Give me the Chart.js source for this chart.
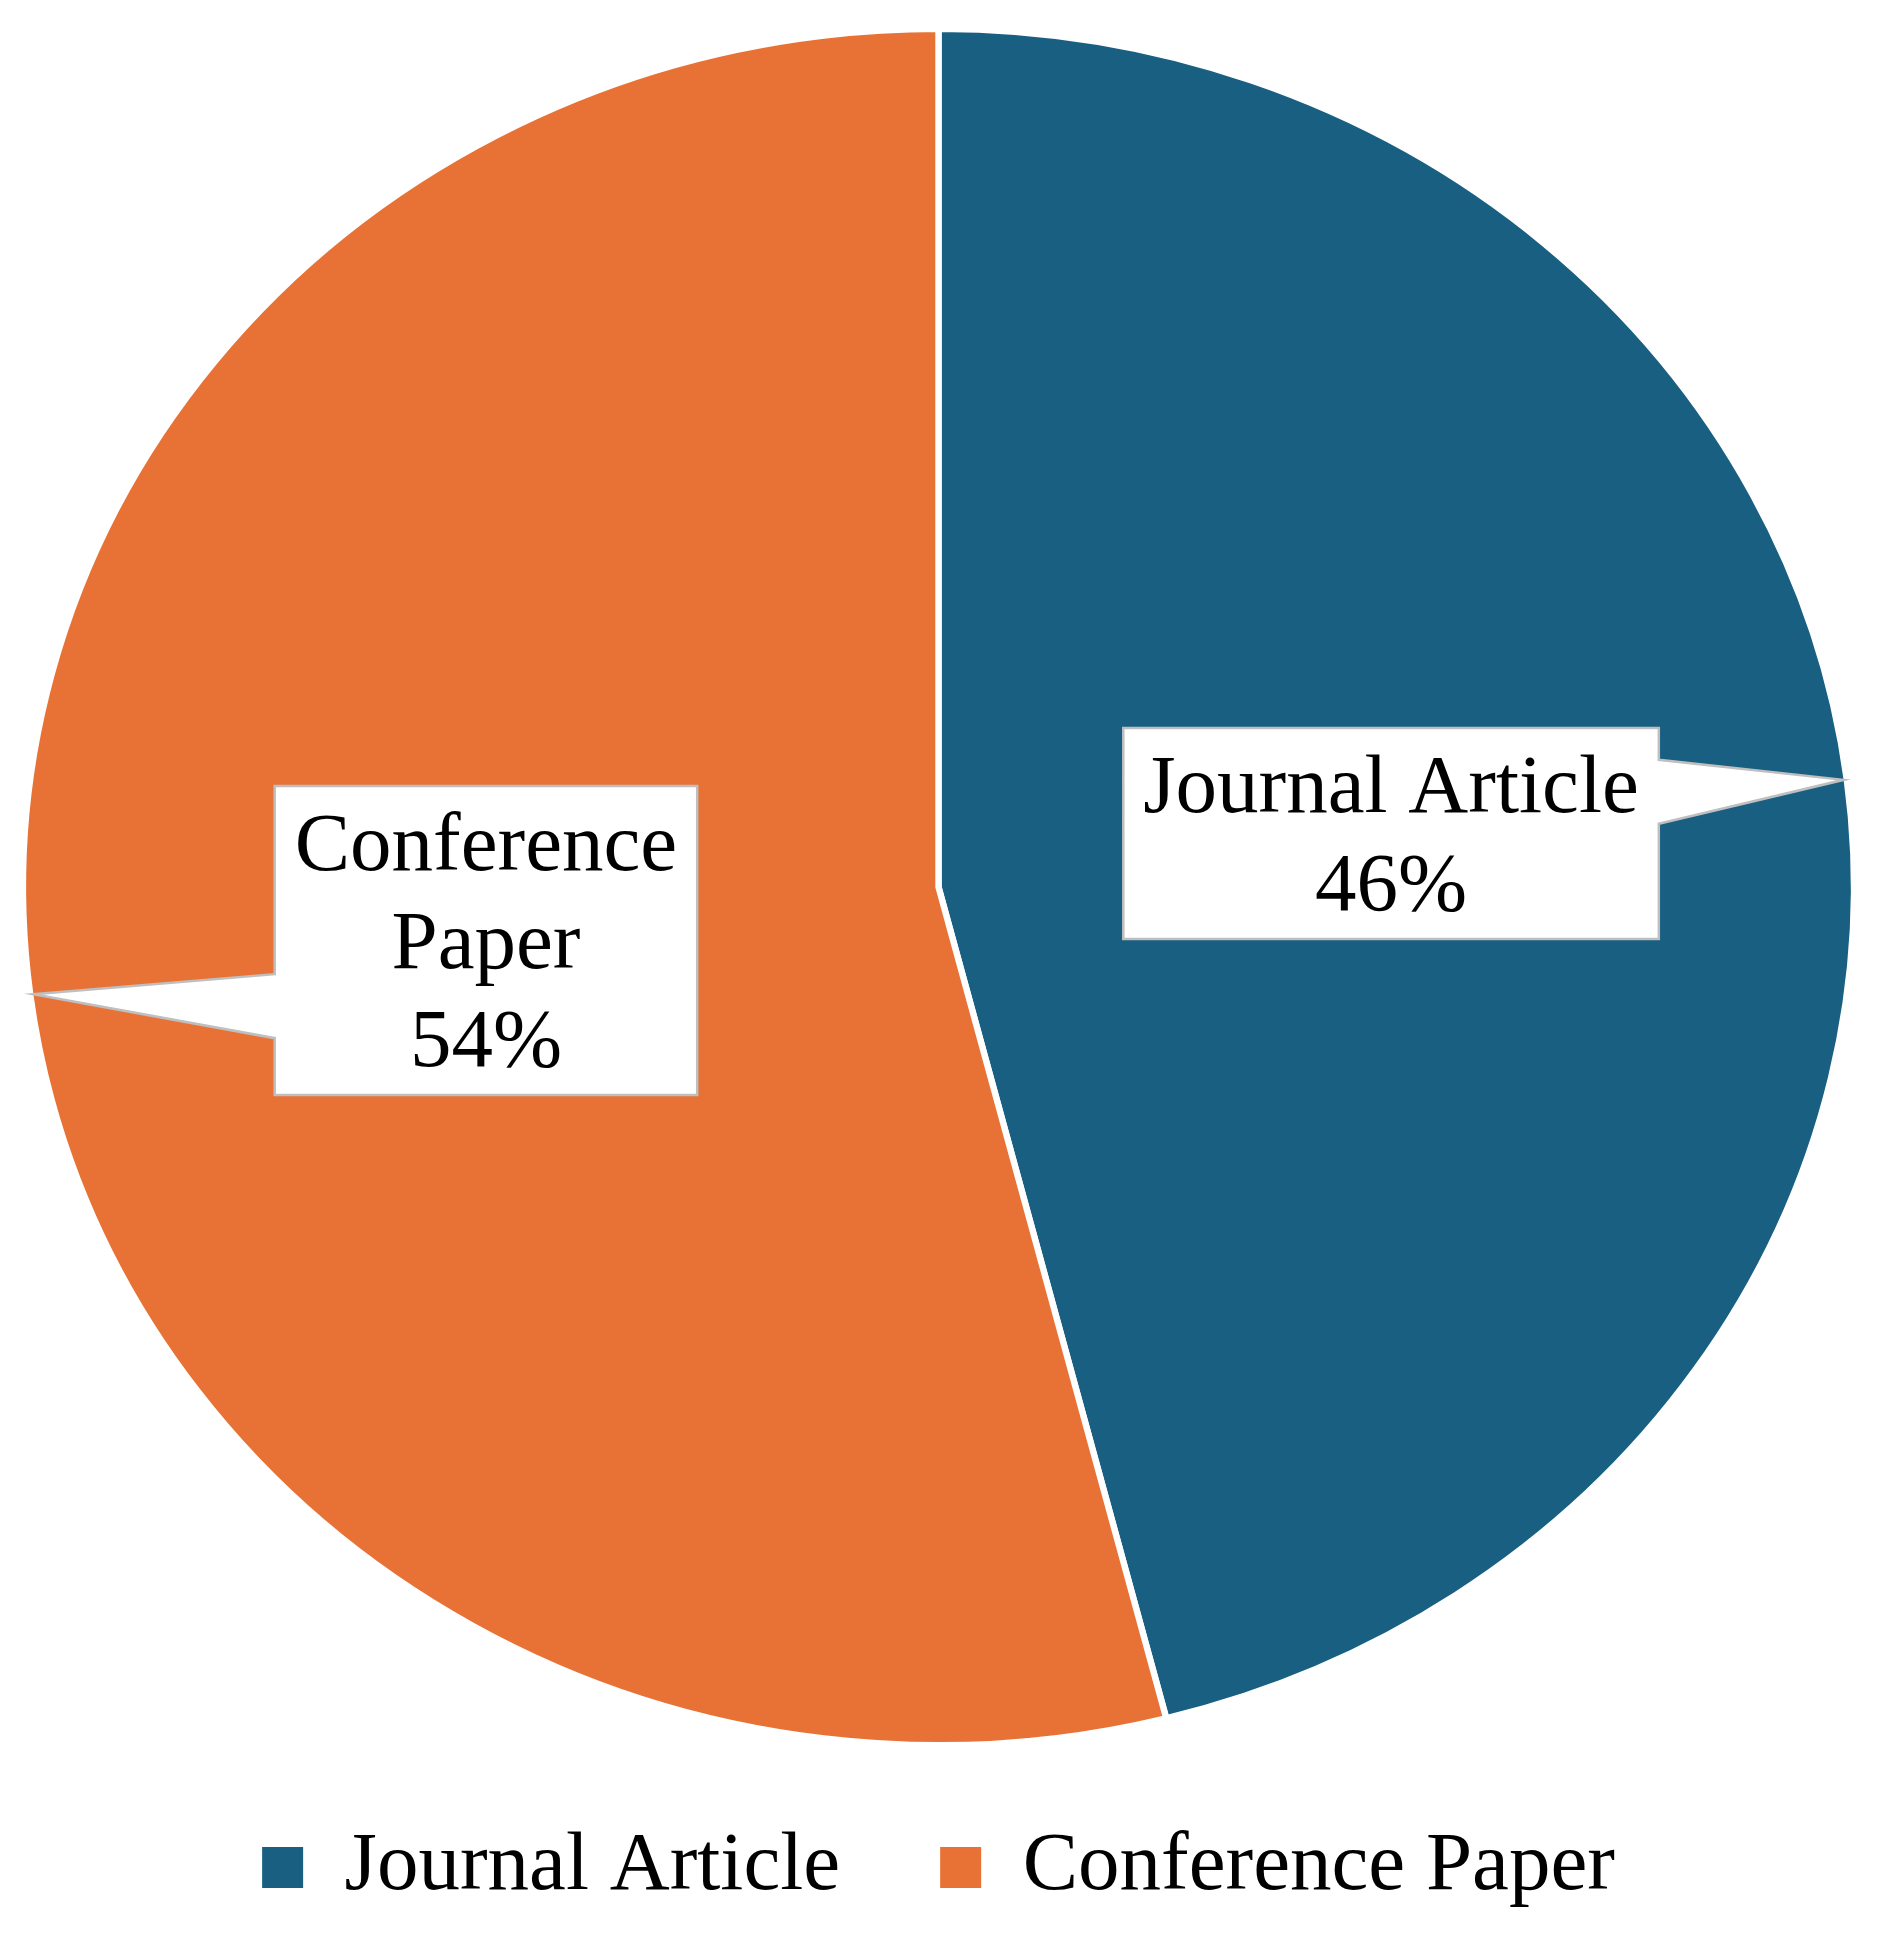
<!DOCTYPE html>
<html>
<head>
<meta charset="utf-8">
<title>Publication types</title>
<script src="https://cdn.jsdelivr.net/npm/chart.js@4.4.1/dist/chart.umd.min.js"></script>
<style>
    html, body { margin: 0; padding: 0; background: #fff; }
    #wrap { width: 1877px; height: 1939px; position: relative; }
</style>
</head>
<body>
<div id="wrap"><canvas id="pub-chart"></canvas></div>
<script>
// Data
const categories = ['Journal Article', 'Conference Paper'];
const shares = [46, 54];
const calloutLines = [['Journal Article'], ['Conference', 'Paper']];
const sliceColors = ['#185f82', '#e87235'];

const FONT = '"Liberation Serif", "Times New Roman", serif';
const FONT_SIZE = 83;
const STRETCH_X = 1.067; // the original pie is slightly wider than tall

// squash the pie into the same ellipse as the reference
const ellipsePlugin = {
    id: 'ellipse',
    beforeDatasetsDraw(chart) {
        const arc = chart.getDatasetMeta(0).data[0];
        const { ctx } = chart;
        ctx.save();
        ctx.translate(arc.x, arc.y);
        ctx.scale(STRETCH_X, 1);
        ctx.translate(-arc.x, -arc.y);
    },
    afterDatasetsDraw(chart) {
        chart.ctx.restore();
    }
};

// white callout boxes with a pointer to the rim
const calloutPlugin = {
    id: 'callouts',
    afterDatasetsDraw(chart) {
        const { ctx } = chart;
        const meta = chart.getDatasetMeta(0);
        const total = shares.reduce((a, b) => a + b, 0);
        const lineH = 98;
        meta.data.forEach((arc, i) => {
            const { x, y, startAngle, endAngle, outerRadius } = arc.getProps(['x', 'y', 'startAngle', 'endAngle', 'outerRadius'], true);
            const mid = (startAngle + endAngle) / 2;
            const R = outerRadius - 3;
            const tipX = x + Math.cos(mid) * R * STRETCH_X;
            const tipY = y + Math.sin(mid) * R;
            const bx = x + Math.cos(mid) * R * 0.5 * STRETCH_X;
            const by = y + Math.sin(mid) * R * 0.5;

            const lines = calloutLines[i].concat([Math.round(shares[i] / total * 100) + '%']);
            ctx.font = FONT_SIZE + 'px ' + FONT;
            const textW = Math.max(...lines.map(l => ctx.measureText(l).width));
            const w = textW + 40;
            const h = lines.length * lineH + 15;
            const left = bx - w / 2, top = by - h / 2, right = bx + w / 2, bottom = by + h / 2;
            const b1 = tipY - 20, b2 = tipY + 44;

            ctx.save();
            ctx.beginPath();
            ctx.moveTo(left, top);
            ctx.lineTo(right, top);
            if (tipX > right) {
                ctx.lineTo(right, b1);
                ctx.lineTo(tipX, tipY);
                ctx.lineTo(right, b2);
            }
            ctx.lineTo(right, bottom);
            ctx.lineTo(left, bottom);
            if (tipX < left) {
                ctx.lineTo(left, b2);
                ctx.lineTo(tipX, tipY);
                ctx.lineTo(left, b1);
            }
            ctx.closePath();
            ctx.fillStyle = '#ffffff';
            ctx.fill();
            ctx.lineWidth = 2.5;
            ctx.strokeStyle = '#bfbfbf';
            ctx.lineJoin = 'miter';
            ctx.stroke();

            ctx.fillStyle = '#000000';
            ctx.textAlign = 'center';
            ctx.textBaseline = 'middle';
            lines.forEach((l, k) => {
                ctx.fillText(l, bx, top + 13 + lineH / 2 + k * lineH);
            });
            ctx.restore();
        });
    }
};

new Chart(document.getElementById('pub-chart'), {
    type: 'pie',
    data: {
        labels: categories,
        datasets: [{
            data: shares,
            backgroundColor: sliceColors,
            borderColor: '#ffffff',
            borderWidth: 6
        }]
    },
    options: {
        responsive: true,
        maintainAspectRatio: false,
        devicePixelRatio: 1,
        animation: false,
        radius: 858,
        layout: { padding: { top: 48, bottom: 20, left: 0, right: 0 } },
        plugins: {
            tooltip: { enabled: false },
            legend: {
                position: 'bottom',
                labels: {
                    font: { family: FONT, size: FONT_SIZE },
                    color: '#000000',
                    boxWidth: 41,
                    boxHeight: 41,
                    padding: 100,
                    generateLabels(chart) {
                        const base = Chart.overrides.pie.plugins.legend.labels.generateLabels(chart);
                        return base.map(item => Object.assign(item, { lineWidth: 0 }));
                    }
                }
            }
        }
    },
    plugins: [ellipsePlugin, calloutPlugin]
});
</script>
</body>
</html>
